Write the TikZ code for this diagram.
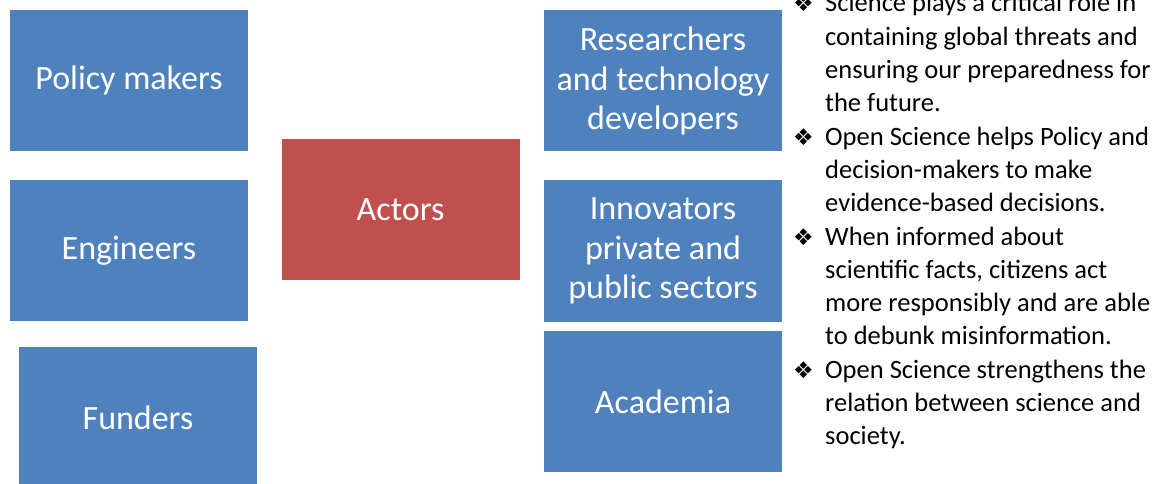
\documentclass[tikz,border=0pt]{standalone}
\usepackage{fontspec}
\setmainfont{Carlito}
\newfontfamily\symfont{DejaVu Sans}
\definecolor{actorblue}{HTML}{4F81BD}
\definecolor{actorred}{HTML}{C0504D}

\begin{document}
\begin{tikzpicture}[x=1pt,y=-1pt,
    group/.style={fill=actorblue, text=white, minimum width=238pt, minimum height=141pt,
      inner sep=0pt, align=center, font=\fontsize{34}{39.6}\selectfont},
    hub/.style={group, fill=actorred}]
      \useasboundingbox (0,0) rectangle (1163,484);
      \node (policy)[group] at (129,80.5){Policy makers};
      \node (engineers)[group] at (129,250.5){Engineers};
      \node (funders)[group] at (138,417.5){Funders};
      \node (actors)[hub] at (400.5,209.5){Actors};
      \node (researchers)[group] at (663,81){Researchers\\and technology\\developers};
      \node (innovators)[group] at (663,251){Innovators\\private and\\public sectors};
      \node (academia)[group] at (663,401.5){Academia};
      \node (notes)[anchor=base west, inner sep=0pt, font=\fontsize{26.5}{33.3}\selectfont] at (793,12){%
        \begin{tabular}[t]{@{}l@{}l@{}}
          \makebox[32pt][l]{\symfont\fontsize{23}{23}\selectfont ❖} & Science plays a critical role in\\
          & containing global threats and\\
          & ensuring our preparedness for\\
          & the future.\\
          \makebox[32pt][l]{\symfont\fontsize{23}{23}\selectfont ❖} & Open Science helps Policy and\\
          & decision-makers to make\\
          & evidence-based decisions.\\
          \makebox[32pt][l]{\symfont\fontsize{23}{23}\selectfont ❖} & When informed about\\
          & scientific facts, citizens act\\
          & more responsibly and are able\\
          & to debunk misinformation.\\
          \makebox[32pt][l]{\symfont\fontsize{23}{23}\selectfont ❖} & Open Science strengthens the\\
          & relation between science and\\
          & society.
        \end{tabular}};
    \end{tikzpicture}
\end{document}
